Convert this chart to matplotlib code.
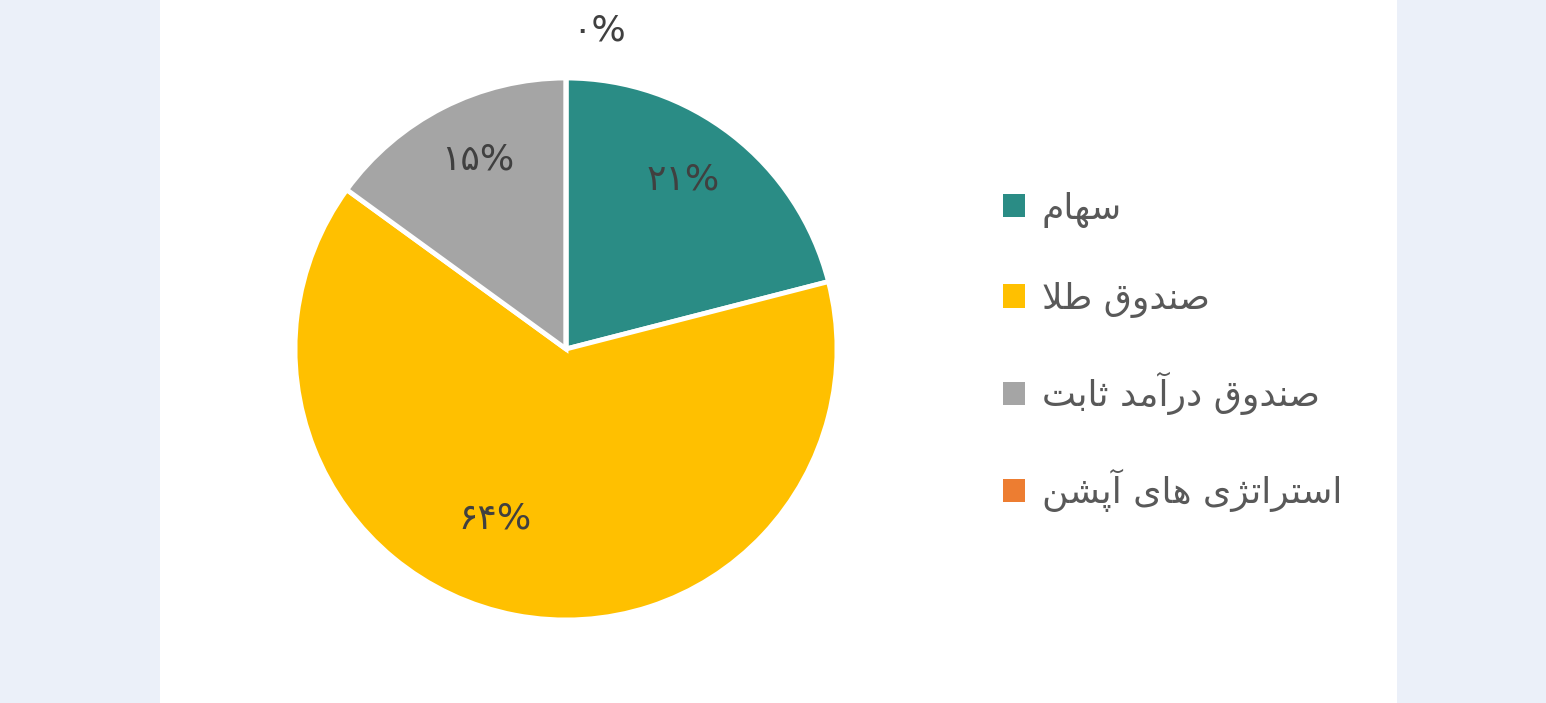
import matplotlib
matplotlib.use("Agg")
import matplotlib.pyplot as plt
from matplotlib.patches import Rectangle
import numpy as np

plt.rcParams['font.family'] = ['DejaVu Sans']

categories = ['سهام', 'صندوق طلا', 'صندوق درآمد ثابت', 'استراتژی های آپشن']
values = [21, 64, 15, 0]
pct_labels = ['۲۱%', '۶۴%', '۱۵%', '۰%']
colors = ['#2A8C85', '#FFC000', '#A5A5A5', '#ED7D31']

# presentation forms: isolated, final, initial, medial
FORMS = {
    'ا': ('\uFE8D', '\uFE8E', None, None),
    'آ': ('\uFE81', '\uFE82', None, None),
    'ب': ('\uFE8F', '\uFE90', '\uFE91', '\uFE92'),
    'پ': ('\uFB56', '\uFB57', '\uFB58', '\uFB59'),
    'ت': ('\uFE95', '\uFE96', '\uFE97', '\uFE98'),
    'ث': ('\uFE99', '\uFE9A', '\uFE9B', '\uFE9C'),
    'د': ('\uFEA9', '\uFEAA', None, None),
    'ر': ('\uFEAD', '\uFEAE', None, None),
    'ژ': ('\uFB8A', '\uFB8B', None, None),
    'س': ('\uFEB1', '\uFEB2', '\uFEB3', '\uFEB4'),
    'ش': ('\uFEB5', '\uFEB6', '\uFEB7', '\uFEB8'),
    'ص': ('\uFEB9', '\uFEBA', '\uFEBB', '\uFEBC'),
    'ط': ('\uFEC1', '\uFEC2', '\uFEC3', '\uFEC4'),
    'ق': ('\uFED5', '\uFED6', '\uFED7', '\uFED8'),
    'ل': ('\uFEDD', '\uFEDE', '\uFEDF', '\uFEE0'),
    'م': ('\uFEE1', '\uFEE2', '\uFEE3', '\uFEE4'),
    'ن': ('\uFEE5', '\uFEE6', '\uFEE7', '\uFEE8'),
    'ه': ('\uFEE9', '\uFEEA', '\uFEEB', '\uFEEC'),
    'و': ('\uFEED', '\uFEEE', None, None),
    'ی': ('\uFBFC', '\uFBFD', '\uFBFE', '\uFBFF'),
}
LAMALEF = {'ا': ('\uFEFB', '\uFEFC'), 'آ': ('\uFEF5', '\uFEF6')}


def dual(c):
    return c in FORMS and FORMS[c][2] is not None


def shape(text):
    # join arabic letters and flip to visual order
    out = []
    i = 0
    while i < len(text):
        c = text[i]
        prev = text[i - 1] if i > 0 else ''
        nxt = text[i + 1] if i + 1 < len(text) else ''
        if c not in FORMS:
            out.append(c)
        elif c == 'ل' and nxt in LAMALEF:
            out.append(LAMALEF[nxt][1 if dual(prev) else 0])
            i += 1
        else:
            p = dual(prev)
            n = dual(c) and nxt in FORMS
            idx = 3 if (p and n) else 1 if p else 2 if n else 0
            out.append(FORMS[c][idx])
        i += 1
    return ''.join(reversed(out))


fig = plt.figure(figsize=(15.46, 7.03), dpi=100)
fig.patch.set_facecolor('#EBF0F9')
fig.patches.append(Rectangle((160 / 1546, 0), 1237 / 1546, 1, transform=fig.transFigure,
                             facecolor='white', edgecolor='none', zorder=-1))

ax = fig.add_axes([295 / 1546, 83 / 703, 542 / 1546, 542 / 703])
wedges, _ = ax.pie(values, colors=colors, startangle=90, counterclock=False, radius=1,
                   wedgeprops=dict(edgecolor='white', linewidth=3.5))
ax.set_xlim(-1, 1)
ax.set_ylim(-1, 1)
ax.set_aspect('equal')
ax.axis('off')

# label placement: distance from centre and angle shift per slice
dists = [0.76, 0.68, 0.77, 1.18]
shifts = [3, -12, -2, -6]
for w, lab, d, s in zip(wedges, pct_labels, dists, shifts):
    ang = np.deg2rad((w.theta1 + w.theta2) / 2 + s)
    ax.text(d * np.cos(ang), d * np.sin(ang), lab, ha='center', va='center',
            fontsize=26, color='#404040', clip_on=False)

leg = fig.legend(wedges, [shape(c) for c in categories], loc='center left',
                 bbox_to_anchor=(1003 / 1546, 1 - 352 / 703), frameon=False,
                 fontsize=26, labelcolor='#595959', handlelength=0.61, handleheight=0.61,
                 handletextpad=0.47, labelspacing=1.5, borderpad=0, borderaxespad=0)
for h in leg.legend_handles:
    h.set_edgecolor('none')

fig.savefig('out.png', dpi=100, facecolor=fig.get_facecolor())
